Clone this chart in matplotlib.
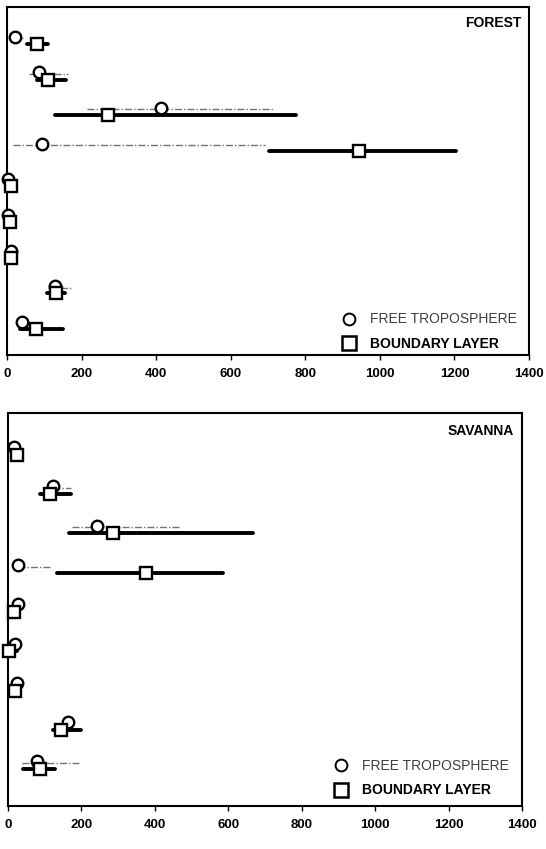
import matplotlib.pyplot as plt
import numpy as np
from matplotlib.lines import Line2D

plt.rcParams['font.family'] = ['Liberation Sans', 'DejaVu Sans']

# FOREST panel (9 rows, top to bottom)
forest_ft = [21, 86, 413, 93, 3, 2, 12, 129, 39]
forest_ft_lo = [15, 60, 214, 17, 3, 2, 12, 110, 39]
forest_ft_hi = [42, 163, 713, 692, 3, 2, 12, 171, 39]
forest_bl = [80, 109, 272, 944, 12, 9, 12, 131, 78]
forest_bl_lo = [53, 81, 129, 703, 12, 9, 12, 107, 35]
forest_bl_hi = [109, 158, 774, 1204, 12, 9, 12, 156, 150]

# SAVANNA panel
savanna_ft = [15, 122, 243, 28, 28, 19, 25, 163, 78]
savanna_ft_lo = [15, 122, 174, 28, 28, 19, 25, 163, 37]
savanna_ft_hi = [15, 171, 467, 119, 28, 19, 25, 163, 196]
savanna_bl = [25, 114, 287, 375, 16, 4, 19, 144, 87]
savanna_bl_lo = [25, 87, 166, 134, 16, 4, 19, 122, 42]
savanna_bl_hi = [25, 171, 668, 585, 16, 24, 19, 199, 128]

xticks = [0, 200, 400, 600, 800, 1000, 1200, 1400]


def draw_panel(ax, title, ft, ft_lo, ft_hi, bl, bl_lo, bl_hi, ylim, leg_anchor):
    rows = np.arange(len(ft))
    ft = np.array(ft); bl = np.array(bl)
    # thin free-troposphere ranges
    for r, lo, hi in zip(rows, ft_lo, ft_hi):
        if hi > lo:
            ax.plot([lo, hi], [r + 0.04, r + 0.04], color='0.45', lw=1.0,
                    ls=(0, (5, 1.5, 1, 1.5)), zorder=1)
    # thick boundary-layer ranges
    for r, lo, hi in zip(rows, bl_lo, bl_hi):
        if hi > lo:
            ax.plot([lo, hi], [r + 0.2, r + 0.2], color='black', lw=2.8,
                    solid_capstyle='round', zorder=2)
    ax.plot(ft, rows, 'o', ms=8.3, mfc='white', mec='black', mew=1.7,
            zorder=3, clip_on=False)
    ax.plot(bl, rows + 0.2, 's', ms=8.5, mfc='white', mec='black', mew=1.7,
            zorder=4, clip_on=False)

    ax.set_xlim(0, 1400)
    ax.set_ylim(*ylim)
    ax.set_yticks([])
    ax.set_xticks(xticks)
    ax.set_xticklabels([str(t) for t in xticks], fontsize=9.5, fontweight='bold')
    ax.tick_params(axis='x', direction='out', length=3.5, width=1, pad=6)
    for s in ax.spines.values():
        s.set_linewidth(1.5)
    ax.text(0.985, 0.955, title, transform=ax.transAxes, ha='right', va='center',
            fontsize=10, fontweight='bold')

    handles = [Line2D([], [], ls='none', marker='o', ms=8.5, mfc='white', mec='black', mew=1.4),
               Line2D([], [], ls='none', marker='s', ms=10, mfc='white', mec='black', mew=1.8)]
    leg = ax.legend(handles, ['FREE TROPOSPHERE', 'BOUNDARY LAYER'], loc='lower right',
                    bbox_to_anchor=leg_anchor, frameon=False, fontsize=10,
                    handlelength=1.0, handletextpad=1.0, labelspacing=0.75,
                    borderpad=0, borderaxespad=0)
    leg.get_texts()[0].set_color('0.25')
    leg.get_texts()[1].set_fontweight('bold')


fig = plt.figure(figsize=(5.46, 8.49), dpi=100)
ax1 = fig.add_axes([0.0128, 0.5819, 0.956, 0.41])
ax2 = fig.add_axes([0.0147, 0.0506, 0.9414, 0.4629])

draw_panel(ax1, 'FOREST', forest_ft, forest_ft_lo, forest_ft_hi,
           forest_bl, forest_bl_lo, forest_bl_hi, (8.93, -0.84), (0.977, 0.012))
draw_panel(ax2, 'SAVANNA', savanna_ft, savanna_ft_lo, savanna_ft_hi,
           savanna_bl, savanna_bl_lo, savanna_bl_hi, (9.135, -0.865), (0.975, 0.022))

fig.savefig('out.png', dpi=100)
